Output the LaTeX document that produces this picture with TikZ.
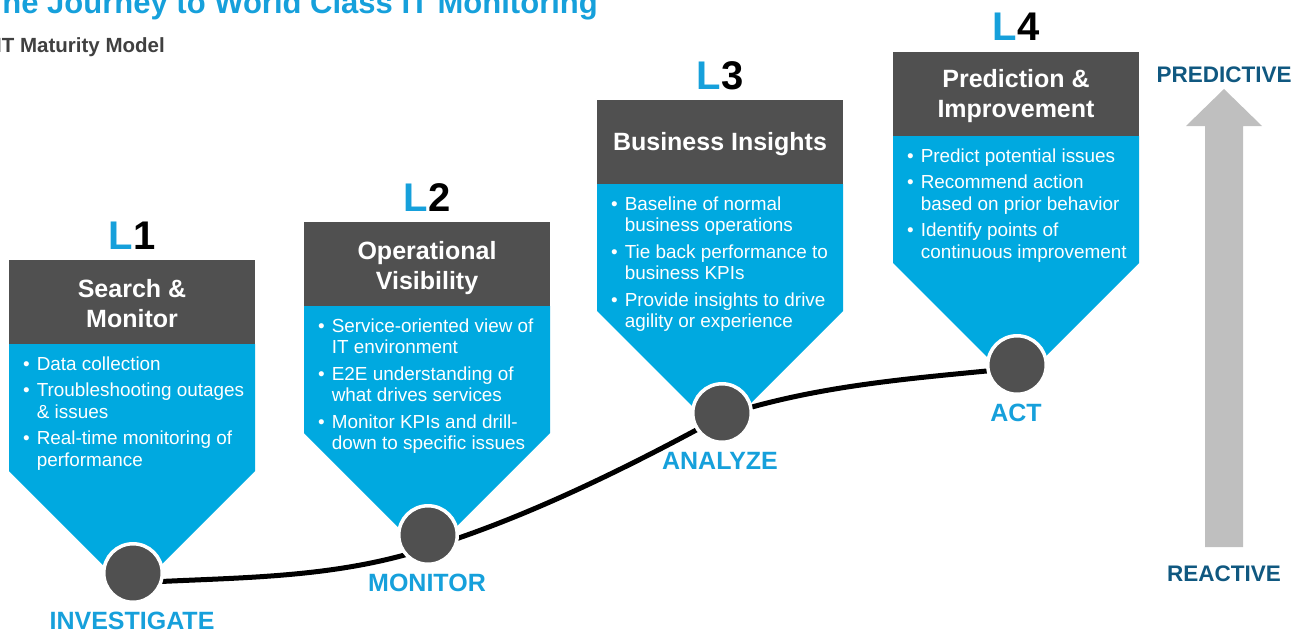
\documentclass[tikz,border=0pt]{standalone}
\usepackage{fontspec}
\setmainfont{Liberation Sans}
\definecolor{boxblue}{RGB}{0,169,224}
\definecolor{hdrgray}{RGB}{80,80,80}
\definecolor{lblblue}{RGB}{22,160,219}
\definecolor{darkblue}{RGB}{16,88,128}
\definecolor{arrowgray}{RGB}{191,191,191}
\definecolor{subgray}{RGB}{64,64,64}
\newcommand{\bodylist}[1]{\begin{tabular}[t]{@{}l@{\hspace{7pt}}l@{}}#1\end{tabular}}
\newcommand{\hdrlines}[1]{\begin{tabular}[t]{@{}c@{}}#1\end{tabular}}
% #1 id, #2 left, #3 top, #4 header baseline offset, #5 header, #6 body, #7 digit, #8 stage label
\newcommand{\stagebox}[8]{%
  \pgfmathsetmacro\R{#2+246}%
  \pgfmathsetmacro\CX{#2+123}%
  \pgfmathsetmacro\HB{#3+84}%
  \pgfmathsetmacro\RB{#3+211}%
  \pgfmathsetmacro\AP{#3+334}%
  \fill[boxblue] (#2,\HB) -- (\R,\HB) -- (\R,\RB) -- (\CX,\AP) -- (#2,\RB) -- cycle;
  \node[hdr] (h#1) at (#2,#3) {};
  \node[hdrtext] (ht#1) at (\CX,{#3+#4}) {\hdrlines{#5}};
  \node[bodytext] (b#1) at ({#2+14},{#3+110}) {\bodylist{#6}};
  \node[lvl] (l#1) at (\CX,{#3-11}) {\textcolor{lblblue}{L}\textcolor{black}{#7}};
  \node[stagelbl] (s#1) at (\CX,{#3+369}) {#8};
}
\begin{document}
\begin{tikzpicture}[x=1pt,y=-1pt,
  hdr/.style={fill=hdrgray, minimum width=246pt, minimum height=84pt, anchor=north west, inner sep=0pt},
  hdrtext/.style={text=white, font=\bfseries\fontsize{25}{30}\selectfont, inner sep=0pt, anchor=base},
  bodytext/.style={text=white, font=\fontsize{18.9}{21.5}\selectfont, inner sep=0pt, anchor=base west},
  lvl/.style={font=\bfseries\fontsize{40}{44}\selectfont, inner sep=0pt, anchor=base},
  stagelbl/.style={text=lblblue, font=\bfseries\fontsize{25}{29}\selectfont, inner sep=0pt, anchor=base},
  dot/.style={circle, fill=hdrgray, draw=white, line width=3.5pt, minimum size=58.5pt, inner sep=0pt},
  journey/.style={line width=5pt, black},
  axislbl/.style={text=darkblue, font=\bfseries\fontsize{22.5}{26}\selectfont, inner sep=0pt, anchor=base},
  titletext/.style={inner sep=0pt, anchor=base east}
]
\useasboundingbox (0,0) rectangle (1299,634);
\clip (0,0) rectangle (1299,634);

% title
\node[titletext, text=lblblue, font=\bfseries\fontsize{31}{36}\selectfont] (title) at (598,14) {The Journey to World Class IT Monitoring};
\node[titletext, text=subgray, font=\bfseries\fontsize{20.5}{24}\selectfont] (subtitle) at (165,53) {IT Maturity Model};

% stages
\stagebox{1}{9}{260}{37}{Search \&\\Monitor}{%
  \textbullet & Data collection\\[5pt]
  \textbullet & Troubleshooting outages\\
   & \& issues\\[5pt]
  \textbullet & Real-time monitoring of\\
   & performance}{1}{INVESTIGATE}
\stagebox{2}{304}{222}{37}{Operational\\Visibility}{%
  \textbullet & Service-oriented view of\\
   & IT environment\\[5pt]
  \textbullet & E2E understanding of\\
   & what drives services\\[5pt]
  \textbullet & Monitor KPIs and drill-\\
   & down to specific issues}{2}{MONITOR}
\stagebox{3}{597}{100}{50}{Business Insights}{%
  \textbullet & Baseline of normal\\
   & business operations\\[5pt]
  \textbullet & Tie back performance to\\
   & business KPIs\\[5pt]
  \textbullet & Provide insights to drive\\
   & agility or experience}{3}{ANALYZE}
\stagebox{4}{893}{52}{36}{Prediction \&\\Improvement}{%
  \textbullet & Predict potential issues\\[5pt]
  \textbullet & Recommend action\\
   & based on prior behavior\\[5pt]
  \textbullet & Identify points of\\
   & continuous improvement}{4}{ACT}

% journey curve waypoints
\coordinate (w1) at (133,583);
\coordinate (w2) at (428,548);
\coordinate (w3) at (722,416);
\coordinate (w4) at (1017,368);
\draw[journey] (w1) .. controls (231,577) and (330,580) .. (w2)
  .. controls (526,518) and (632,465.5) .. (w3)
  .. controls (820,384) and (919,378) .. (w4);

% circles
\node[dot] (c1) at (133,573) {};
\node[dot] (c2) at (428,535) {};
\node[dot] (c3) at (722,413) {};
\node[dot] (c4) at (1017,365) {};

% maturity arrow
\fill[arrowgray] (1205,547) -- (1205,126) -- (1186,126) -- (1224,89) -- (1262,126) -- (1243,126) -- (1243,547) -- cycle;
\node[axislbl] (pred) at (1224,82) {PREDICTIVE};
\node[axislbl] (react) at (1224,581) {REACTIVE};
\end{tikzpicture}
\end{document}
